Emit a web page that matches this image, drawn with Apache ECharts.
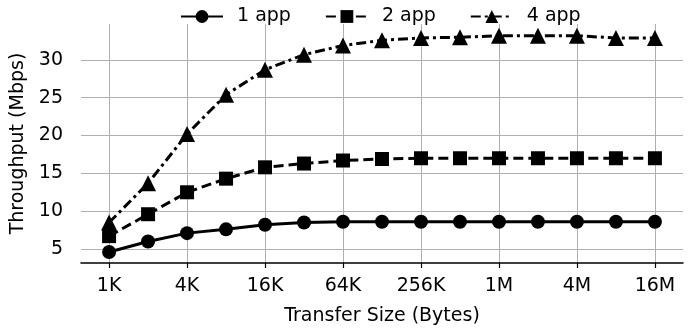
<!DOCTYPE html>
<html><head><meta charset="utf-8">
<script src="https://cdn.jsdelivr.net/npm/echarts@6/dist/echarts.min.js"></script>
<style>html,body{margin:0;padding:0;background:#fff}#c{width:697px;height:331px}</style>
</head><body><div id="c"></div>
<script>
const categories = ['1K','2K','4K','8K','16K','32K','64K','128K','256K','512K','1M','2M','4M','8M','16M'];
const oneApp  = [4.6, 6.0, 7.1, 7.6, 8.2, 8.5, 8.6, 8.6, 8.6, 8.6, 8.6, 8.6, 8.6, 8.6, 8.6];
const twoApp  = [6.7, 9.6, 12.5, 14.3, 15.8, 16.3, 16.7, 16.9, 17.0, 17.0, 17.0, 17.0, 17.0, 17.0, 17.0];
const fourApp = [8.5, 13.7, 20.2, 25.4, 28.7, 30.7, 31.9, 32.6, 32.9, 33.0, 33.2, 33.2, 33.2, 32.9, 32.9];
const xTickIdx = [0, 2, 4, 6, 8, 10, 12, 14];
const yTicks = [5, 10, 15, 20, 25, 30];

const font = 'DejaVu Sans';
const fs = 19;
const toPts = arr => arr.map((v, i) => [i, v]);
const mk = (name, data, symbol, size, ltype) => ({
  name, type: 'line', data: toPts(data), symbol, symbolSize: size,
  itemStyle: {color: '#000'},
  lineStyle: {color: '#000', width: 3, type: ltype},
  animation: false
});

const chart = echarts.init(document.getElementById('c'), null, {renderer: 'canvas'});
chart.setOption({
  animation: false,
  textStyle: {fontFamily: font},
  legend: {
    top: 2, left: 175, itemWidth: 42, itemHeight: 16, itemGap: 34,
    textStyle: {fontFamily: font, fontSize: fs, color: '#000', padding: [0, 0, 0, 9]},
    data: ['1 app', '2 app', '4 app']
  },
  grid: {left: 81, right: 14, top: 24, bottom: 68, containLabel: false},
  xAxis: {
    type: 'value', min: -0.72, max: 14.72,
    name: 'Transfer Size (Bytes)', nameLocation: 'middle', nameGap: 44,
    nameTextStyle: {fontFamily: font, fontSize: fs, color: '#000'},
    axisLine: {show: true, onZero: false, lineStyle: {color: '#000', width: 1.5}},
    axisTick: {show: true, customValues: xTickIdx, length: 5, lineStyle: {color: '#000', width: 1.2}},
    axisLabel: {customValues: xTickIdx, margin: 14, fontFamily: font, fontSize: fs, color: '#000',
      formatter: v => categories[Math.round(v)]},
    splitLine: {show: true, lineStyle: {color: '#b0b0b0', width: 1}}
  },
  yAxis: {
    type: 'value', min: 3.15, max: 34.75,
    name: 'Throughput (Mbps)', nameLocation: 'middle', nameGap: 45,
    nameTextStyle: {fontFamily: font, fontSize: fs, color: '#000'},
    axisLine: {show: false},
    axisTick: {show: false, customValues: yTicks},
    axisLabel: {customValues: yTicks, margin: 18, fontFamily: font, fontSize: fs, color: '#000'},
    splitLine: {show: true, lineStyle: {color: '#b0b0b0', width: 1}}
  },
  series: [
    mk('1 app', oneApp, 'circle', 14, 'solid'),
    mk('2 app', twoApp, 'rect', 14, [10, 5]),
    mk('4 app', fourApp, 'triangle', 16, [10, 4, 3, 4])
  ]
});
</script></body></html>
